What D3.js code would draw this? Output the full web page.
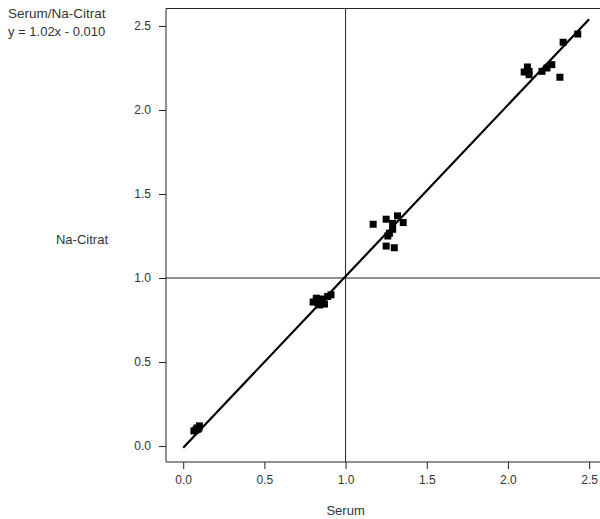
<!DOCTYPE html>
<html>
<head>
<meta charset="utf-8">
<script src="https://cdn.jsdelivr.net/npm/d3@7"></script>
<style>
  body { margin: 0; background: #fff; font-family: "Liberation Sans", Arial, sans-serif; }
  .axis text { fill: #333; font-size: 12px; font-family: "Liberation Sans", Arial, sans-serif; }
  .axis line { stroke: #222; }
</style>
</head>
<body>
<div id="chart"></div>
<script>
// Serum (x) vs Na-Citrat (y) measurements
const serum = [
  0.066, 0.078, 0.084, 0.097, 0.100, 0.090,
  0.80, 0.82, 0.82, 0.83, 0.84, 0.84, 0.85, 0.87, 0.89, 0.91, 0.86,
  1.17, 1.25, 1.32, 1.29, 1.355, 1.29, 1.27, 1.26, 1.25, 1.30,
  2.12, 2.10, 2.13, 2.13, 2.21, 2.24, 2.27, 2.32, 2.34, 2.43
];
const citrat = [
  0.090, 0.095, 0.107, 0.107, 0.120, 0.100,
  0.857, 0.880, 0.870, 0.850, 0.840, 0.855, 0.875, 0.845, 0.890, 0.900, 0.860,
  1.32, 1.35, 1.37, 1.325, 1.33, 1.29, 1.266, 1.25, 1.19, 1.18,
  2.256, 2.226, 2.21, 2.23, 2.23, 2.25, 2.27, 2.195, 2.403, 2.452
];
const ticks = [0.0, 0.5, 1.0, 1.5, 2.0, 2.5];
const fitSlope = 1.02;
const fitIntercept = -0.010;
const fitRange = [0, 2.5];
const refValue = 1.0;

document.addEventListener("DOMContentLoaded", function () {
  const W = 600, H = 519;
  const plot = { left: 166, top: 8.5, right: 606, bottom: 462 };

  const svg = d3.select("#chart").append("svg")
      .attr("width", W)
      .attr("height", H);

  const x = d3.scaleLinear().domain([-0.106, 2.604]).range([plot.left, plot.right]);
  const y = d3.scaleLinear().domain([-0.095, 2.604]).range([plot.bottom, plot.top]);

  // frame (left, bottom, top; right side runs off the picture)
  svg.append("path")
     .attr("d", `M${plot.right},${plot.top}H${plot.left}V${plot.bottom}H${plot.right}`)
     .attr("fill", "none")
     .attr("stroke", "#222")
     .attr("stroke-width", 1);

  // reference lines at 1.0
  svg.append("line")
     .attr("x1", x(refValue)).attr("x2", x(refValue))
     .attr("y1", plot.top).attr("y2", plot.bottom)
     .attr("stroke", "#222");
  svg.append("line")
     .attr("x1", plot.left).attr("x2", plot.right)
     .attr("y1", y(refValue)).attr("y2", y(refValue))
     .attr("stroke", "#222");

  const xAxis = svg.append("g")
     .attr("class", "axis")
     .attr("transform", `translate(0,${plot.bottom})`)
     .call(d3.axisBottom(x).tickValues(ticks).tickFormat(d3.format(".1f")).tickSize(7).tickPadding(6));
  xAxis.select(".domain").remove();

  const yAxis = svg.append("g")
     .attr("class", "axis")
     .attr("transform", `translate(${plot.left},0)`)
     .call(d3.axisLeft(y).tickValues(ticks).tickFormat(d3.format(".1f")).tickSize(7).tickPadding(8));
  yAxis.select(".domain").remove();

  // regression line
  svg.append("line")
     .attr("x1", x(fitRange[0])).attr("y1", y(fitSlope * fitRange[0] + fitIntercept))
     .attr("x2", x(fitRange[1])).attr("y2", y(fitSlope * fitRange[1] + fitIntercept))
     .attr("stroke", "#000")
     .attr("stroke-width", 2.2);

  // points
  const s = 7;
  svg.selectAll(".pt")
     .data(serum.map((v, i) => ({ s: v, c: citrat[i] })))
     .enter()
     .append("rect")
     .attr("class", "pt")
     .attr("x", d => x(d.s) - s / 2)
     .attr("y", d => y(d.c) - s / 2)
     .attr("width", s)
     .attr("height", s)
     .attr("fill", "#000");

  // labels
  svg.append("text")
     .attr("x", 8).attr("y", 18)
     .style("font-size", "13.5px").style("fill", "#333")
     .text("Serum/Na-Citrat");
  svg.append("text")
     .attr("x", 8).attr("y", 36)
     .style("font-size", "13px").style("fill", "#333")
     .text("y = 1.02x - 0.010");
  svg.append("text")
     .attr("x", 82).attr("y", 244)
     .attr("text-anchor", "middle")
     .style("font-size", "13px").style("fill", "#333")
     .text("Na-Citrat");
  svg.append("text")
     .attr("x", x(1.0)).attr("y", 515)
     .attr("text-anchor", "middle")
     .style("font-size", "13px").style("fill", "#333")
     .text("Serum");
});
</script>
</body>
</html>
